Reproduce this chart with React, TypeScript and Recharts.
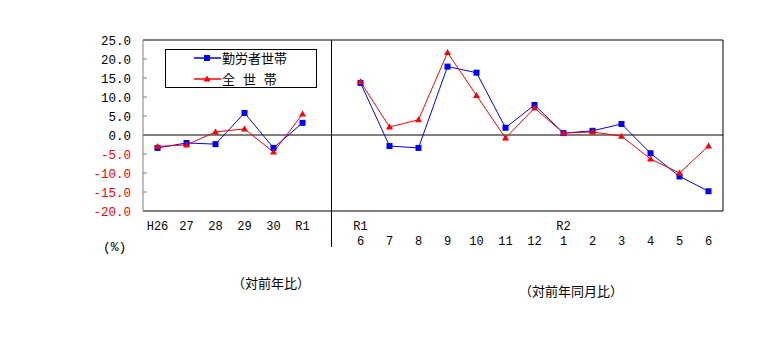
import { LineChart, Line, XAxis, YAxis, ReferenceLine, ReferenceArea } from "recharts";

// 区分（中央の "gap" は年次と月次の仕切り）
const periods = [
  "H26", "H27", "H28", "H29", "H30", "R1",
  "gap",
  "R1-6", "R1-7", "R1-8", "R1-9", "R1-10", "R1-11", "R1-12",
  "R2-1", "R2-2", "R2-3", "R2-4", "R2-5", "R2-6",
];
const labelTop = ["H26", "27", "28", "29", "30", "R1", "", "R1", "", "", "", "", "", "", "R2", "", "", "", "", ""];
const labelBottom = ["", "", "", "", "", "", "", "6", "7", "8", "9", "10", "11", "12", "1", "2", "3", "4", "5", "6"];

// 勤労者世帯
const workers = [-3.4, -2.1, -2.4, 5.8, -3.4, 3.2, null, 13.7, -2.9, -3.4, 18.0, 16.4, 1.9, 7.9, 0.5, 1.1, 2.9, -4.8, -10.9, -14.8];
// 全世帯
const allHouseholds = [-3.0, -2.6, 0.8, 1.6, -4.5, 5.5, null, 14.0, 2.1, 4.0, 21.7, 10.4, -0.8, 7.1, 0.5, 0.8, -0.3, -6.3, -10.0, -2.9];

const yTicks = [-20, -15, -10, -5, 0, 5, 10, 15, 20, 25];

const BLUE = "#0000FF";
const RED = "#FF0000";
const MONO = "'Liberation Mono', 'DejaVu Sans Mono', monospace";
const JP = "'Noto Sans CJK JP', sans-serif";
const X_PAD = 14.5; // 半区分ぶんの余白

const chartData = periods.map((p, i) => ({
  period: p,
  workers: workers[i],
  all: allHouseholds[i],
}));

const SquareDot = (props: any) => {
  const { cx, cy, index } = props;
  if (cx == null || cy == null) return <g key={`s${index}`} />;
  return <rect key={`s${index}`} x={cx - 3} y={cy - 3} width={6} height={6} fill={BLUE} />;
};

const TriangleDot = (props: any) => {
  const { cx, cy, index } = props;
  if (cx == null || cy == null) return <g key={`t${index}`} />;
  return (
    <polygon
      key={`t${index}`}
      points={`${cx},${cy - 3.5} ${cx + 3.5},${cy + 2.5} ${cx - 3.5},${cy + 2.5}`}
      fill={RED}
    />
  );
};

const YTick = ({ x, y, payload }: any) => {
  const v = payload.value as number;
  return (
    <g>
      <line x1={x} x2={x + 4} y1={y} y2={y} stroke="#808080" />
      <text
        x={x - 12}
        y={y + 4.5}
        textAnchor="end"
        fontFamily={MONO}
        fontSize={12.5}
        fill={v < 0 ? RED : "#000"}
      >
        {v.toFixed(1)}
      </text>
    </g>
  );
};

const XTick = ({ x, y, payload }: any) => {
  const i = periods.indexOf(payload.value);
  return (
    <g fontFamily={MONO} fontSize={12} fill="#000">
      <text x={x} y={y + 19} textAnchor="middle">{labelTop[i]}</text>
      <text x={x} y={y + 34} textAnchor="middle">{labelBottom[i]}</text>
    </g>
  );
};

const Divider = (props: any) => {
  const { x1, x2, y1, y2 } = props;
  return (
    <line
      x1={x1}
      x2={x2}
      y1={Math.min(y1, y2)}
      y2={Math.max(y1, y2) + 36}
      stroke="#000"
      strokeWidth={1}
    />
  );
};

// 上・右・下の枠線（左は軸の灰色線）
const Frame = (props: any) => {
  const { x, y, width, height } = props;
  const l = x - X_PAD;
  const r = x + width + X_PAD;
  const b = y + height;
  return (
    <polyline points={`${l},${y} ${r},${y} ${r},${b} ${l},${b}`} fill="none" stroke="#000" strokeWidth={1} />
  );
};

const legendItems = [
  { name: "勤労者世帯", color: BLUE, marker: "square" },
  { name: "全 世 帯", color: RED, marker: "triangle" },
];

export default function App() {
  return (
    <div style={{ position: "absolute", left: 0, top: 0, width: 774, height: 358, background: "#fff" }}>
      <LineChart
        width={774}
        height={358}
        data={chartData}
        margin={{ top: 40, right: 51, bottom: 107, left: 83 }}
      >
        <XAxis
          dataKey="period"
          interval={0}
          height={40}
          padding={{ left: X_PAD, right: X_PAD }}
          tickLine={false}
          tickSize={0}
          tickMargin={0}
          axisLine={false}
          tick={<XTick />}
        />
        <YAxis
          type="number"
          domain={[-20, 25]}
          ticks={yTicks}
          interval={0}
          width={60}
          tickLine={false}
          tickSize={0}
          tickMargin={0}
          axisLine={{ stroke: "#808080" }}
          tick={<YTick />}
        />
        <ReferenceArea
          x1="H26"
          x2="R2-6"
          y1={-20}
          y2={25}
          fill="none"
          stroke="none"
          shape={<Frame />}
        />
        <ReferenceLine y={0} stroke="#000" strokeWidth={1} />
        <ReferenceLine x="gap" stroke="#000" shape={<Divider />} />
        <Line
          type="linear"
          dataKey="workers"
          name="勤労者世帯"
          stroke={BLUE}
          strokeWidth={1}
          dot={<SquareDot />}
          activeDot={false}
          isAnimationActive={false}
        />
        <Line
          type="linear"
          dataKey="all"
          name="全 世 帯"
          stroke={RED}
          strokeWidth={1}
          dot={<TriangleDot />}
          activeDot={false}
          isAnimationActive={false}
        />
      </LineChart>

      {/* 凡例 */}
      <div
        style={{
          position: "absolute",
          left: 165,
          top: 49,
          width: 152,
          height: 39,
          border: "1px solid #000",
          background: "#fff",
          boxSizing: "border-box",
        }}
      >
        {legendItems.map((item, i) => (
          <div
            key={item.name}
            style={{ position: "absolute", left: 28, top: 0 + i * 21, height: 16, display: "flex", alignItems: "center" }}
          >
            <svg width={28} height={16}>
              <line x1={0} x2={27} y1={8} y2={8} stroke={item.color} strokeWidth={1.5} />
              {item.marker === "square" ? (
                <rect x={10} y={5} width={6} height={6} fill={item.color} />
              ) : (
                <polygon points="13,4.5 16.5,10.5 9.5,10.5" fill={item.color} />
              )}
            </svg>
            <span style={{ fontFamily: JP, fontSize: 13, whiteSpace: "pre", wordSpacing: 5, lineHeight: "16px" }}>
              {item.name}
            </span>
          </div>
        ))}
      </div>

      <div style={{ position: "absolute", left: 103, top: 239, fontFamily: MONO, fontSize: 13, lineHeight: "18px" }}>
        (%)
      </div>
      <div style={{ position: "absolute", left: 232, top: 274, fontFamily: JP, fontSize: 13, lineHeight: "18px" }}>
        （対前年比）
      </div>
      <div style={{ position: "absolute", left: 519, top: 282, fontFamily: JP, fontSize: 13, lineHeight: "18px" }}>
        （対前年同月比）
      </div>
    </div>
  );
}
